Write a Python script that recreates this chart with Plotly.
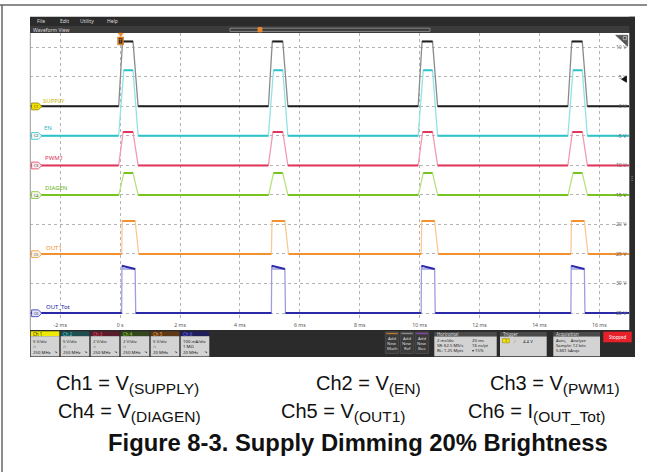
import plotly.graph_objects as go

W, H = 651, 472


def X(px):
    return px / W


def Y(py):
    return 1 - py / H


# ---------------- data ----------------
pulse_starts_ms = [0, 5, 10, 15]
channel_names = ["SUPPLY", "EN", "PWM1", "DIAGEN", "OUT1", "OUT_Tot"]
low_level = [0.0, -5.0, -10.0, -15.0, -25.0, -35.0]          # screen position (V grid units)
high_level = [11.0, 6.1, -4.35, -11.3, -19.4, -27.55]
rise_start_ms = [-0.05, -0.05, -0.05, -0.04, 0.05, 0.05]
rise_end_ms = [0.08, 0.12, 0.10, 0.12, 0.07, 0.06]
fall_start_ms = [0.43, 0.43, 0.43, 0.43, 0.50, 0.50]
fall_end_ms = [0.60, 0.60, 0.60, 0.60, 0.62, 0.52]
edge_overshoot = [0.0, 0.0, 0.0, 0.0, 0.0, 0.55]

time_range_ms = [-3, 17]
time_ticks_ms = [-2, 0, 2, 4, 6, 8, 10, 12, 14, 16]
time_tick_labels = ["-2 ms", "0 s", "2 ms", "4 ms", "6 ms", "8 ms", "10 ms", "12 ms", "14 ms", "16 ms"]
level_ticks = [10, 5, 0, -5, -10, -15, -20, -25, -30, -35]
level_tick_labels = ["10 V", "5 V", "0 V", "-5 V", "-10 V", "-15 V", "-20 V", "-25 V", "-30 V", "-35 V"]

ch_headers = ["Ch 1", "Ch 2", "Ch 3", "Ch 4", "Ch 5", "Ch 6"]
ch_scale = ["5 V/div", "5 V/div", "2 V/div", "2 V/div", "5 V/div", "100 mA/div"]
ch_line2 = ["∩", "∩", "∩", "∩", "∩", "1 MΩ"]
ch_bw = ["250 MHz", "250 MHz", "250 MHz", "250 MHz", "20 MHz", "20 MHz"]

caption_main_row1 = ["Ch1 = V", "Ch2 = V", "Ch3 = V"]
caption_sub_row1 = ["(SUPPLY)", "(EN)", "(PWM1)"]
caption_main_row2 = ["Ch4 = V", "Ch5 = V", "Ch6 = I"]
caption_sub_row2 = ["(DIAGEN)", "(OUT1)", "(OUT_Tot)"]
figure_title = "Figure 8-3. Supply Dimming 20% Brightness"

# ---------------- styles ----------------
strong = ["#1e1e1e", "#2ec3c9", "#e0365c", "#78c41e", "#f39030", "#2a2aa8"]
light = ["#8a8a8a", "#93e2e5", "#f39ab0", "#b7e27e", "#f9c994", "#9d9de0"]
label_col = ["#c9b600", "#2fb8bf", "#d8345a", "#6db21c", "#f08a22", "#2222a0"]
badge_fill = ["#f2e400", "#eefafa", "#fdeaf0", "#f1f9e6", "#fff2e4", "#dfe1ff"]
badge_line = ["#8a7c00", "#35c4ca", "#e0405f", "#80c232", "#f2952f", "#3535b5"]
hdr_fill = ["#f0ea00", "#1f4d50", "#5a1d2b", "#34461d", "#5c3a18", "#1f1f5c"]
hdr_text = ["#222222", "#45d4d6", "#ee4b6d", "#8fd63a", "#f4a040", "#7070f0"]
UI = "Noto Sans"

fig = go.Figure()

for i, name in enumerate(channel_names):
    lo, hi = low_level[i], high_level[i]
    xs, ys = [time_range_ms[0]], [lo]
    bx, by, tx, ty = [time_range_ms[0]], [lo], [], []
    for p in pulse_starts_ms:
        xs += [p + rise_start_ms[i], p + rise_end_ms[i]]
        ys += [lo, hi + edge_overshoot[i]]
        if edge_overshoot[i]:
            xs += [p + rise_end_ms[i] + 0.04]
            ys += [hi]
        xs += [p + fall_start_ms[i], p + fall_end_ms[i]]
        ys += [hi, lo]
        bx += [p + rise_start_ms[i], None, p + fall_end_ms[i]]
        by += [lo, None, lo]
        tx += [p + rise_end_ms[i], p + fall_start_ms[i], None]
        ty += [hi + edge_overshoot[i], hi, None]
    xs.append(time_range_ms[1])
    ys.append(lo)
    bx.append(time_range_ms[1])
    by.append(lo)
    fig.add_trace(go.Scatter(x=xs, y=ys, mode="lines", line=dict(color=light[i], width=1.3),
                             hoverinfo="skip", showlegend=False))
    fig.add_trace(go.Scatter(x=bx, y=by, mode="lines", line=dict(color=strong[i], width=2),
                             hoverinfo="skip", showlegend=False))
    fig.add_trace(go.Scatter(x=tx, y=ty, mode="lines", line=dict(color=strong[i], width=2),
                             hoverinfo="skip", showlegend=False))

# y range derived from pixel geometry of the grid
px_per_unit = 29.55 / 5.0
y_top = 10 + (47.3 - 33) / px_per_unit
y_bot = -35 - (321 - 313) / px_per_unit

shapes = []
ann = []


def rect(x0, y0, x1, y1, fill, line=None, lw=0, layer="above"):
    shapes.append(dict(type="rect", xref="paper", yref="paper", x0=X(x0), x1=X(x1), y0=Y(y1), y1=Y(y0),
                       fillcolor=fill, line=dict(color=line or fill, width=lw), layer=layer))


def path(pts, fill, line=None, lw=0.8):
    d = "M " + " L ".join(f"{X(a):.5f},{Y(b):.5f}" for a, b in pts) + " Z"
    shapes.append(dict(type="path", xref="paper", yref="paper", path=d, fillcolor=fill,
                       line=dict(color=line or fill, width=lw), layer="above"))


def text(x, y, s, size=5.5, color="#dddddd", xa="left", family=UI, ya="middle", **kw):
    ann.append(dict(x=X(x), y=Y(y), xref="paper", yref="paper", text=s, showarrow=False,
                    xanchor=xa, yanchor=ya, font=dict(size=size, color=color, family=family),
                    borderpad=0, **kw))


def yl(v):
    return 47.3 + (10 - v) * px_per_unit


# outer frame
shapes.append(dict(type="line", xref="paper", yref="paper", x0=X(0), x1=X(647), y0=Y(5), y1=Y(5),
                   line=dict(color="#666666", width=1.5)))
shapes.append(dict(type="line", xref="paper", yref="paper", x0=X(2), x1=X(2), y0=Y(5), y1=Y(472),
                   line=dict(color="#666666", width=1.5)))

# menu bars
rect(30, 16.7, 635, 26, "#2b2b2b")
rect(30, 26, 635, 33, "#3b3b3b")
for s, xx in zip(["File", "Edit", "Utility", "Help"], [35.5, 58.5, 79, 105.5]):
    text(xx, 21.4, s, size=5)
text(32, 29.6, "Waveform View", size=5)
rect(230, 28.2, 430, 31.4, "rgba(0,0,0,0)", "#9a9a9a", 0.8)
path([(258, 27.5), (262, 27.5), (262, 32), (258, 32)], "#e8892a")

# plot left border and right strip
shapes.append(dict(type="line", xref="paper", yref="paper", x0=X(30.3), x1=X(30.3), y0=Y(33), y1=Y(330),
                   line=dict(color="#9a9a9a", width=1)))
rect(629.3, 16.7, 635, 357, "#2b2b2b")
text(632.2, 178, "⋮", size=6, color="#bbbbbb", xa="center")

# top-right triangle
path([(615.7, 35.3), (627.7, 35.3), (627.7, 46.3)], "#555555")
rect(623.3, 36.5, 626.5, 39.7, "rgba(0,0,0,0)", "#dddddd", 0.6)

# trigger marker
path([(118.2, 33.3), (123.2, 33.3), (120.7, 36.3)], "#f08a24")
rect(117.7, 37.0, 123.5, 44.8, "#f08a24", "#c86a10", 0.6)
rect(118.8, 38.2, 122.4, 43.6, "#2a2a2a")
text(120.6, 40.9, "T", size=4.5, color="#f08a24", xa="center")

# 5 V cursor arrow
path([(621.5, 79.2), (626.5, 76.2), (626.5, 82.2)], "#111111")

# channel badges & names
name_y = [100.7, 128.3, 158.0, 188.0, 248.0, 307.0]
name_x = [42, 43, 44, 44, 45, 45]
for i, name in enumerate(channel_names):
    yb = yl(low_level[i])
    path([(31.6, yb - 3.4), (38.4, yb - 3.4), (41.8, yb), (38.4, yb + 3.4), (31.6, yb + 3.4)],
         badge_fill[i], badge_line[i], 0.8)
    text(35.6, yb, f"C{i + 1}", size=3.6, color="#333333", xa="center")
    text(name_x[i], name_y[i], name, size=6, color=label_col[i])

# bottom panel
rect(30, 330, 635, 357, "#2b2b2b")
for k in range(6):
    x0 = 30.7 + 30 * k
    rect(x0, 331.3, x0 + 28.6, 336.2, hdr_fill[k])
    rect(x0, 336.2, x0 + 28.6, 356.4, "#d3d3d3")
    text(x0 + 1.2, 333.8, ch_headers[k], size=4.4, color=hdr_text[k])
    text(x0 + 1.2, 340.6, ch_scale[k], size=4.3, color="#222222")
    text(x0 + 1.2, 346.0, ch_line2[k], size=4.3, color="#222222")
    text(x0 + 1.2, 351.8, ch_bw[k], size=4.3, color="#222222")
    text(x0 + 27.5, 351.8, "↘", size=4.0, color="#222222", xa="right")

for j, (lbl, col) in enumerate(zip(["Math", "Ref", "Bus"], ["#b77a33", "#8a8a8a", "#8a45a8"])):
    x0 = 385.3 + 15 * j
    rect(x0, 332, x0 + 13.4, 353.5, "#3a3a3a", "#5a5a5a", 0.6)
    rect(x0 + 1, 332.8, x0 + 12.4, 334.2, col)
    for r, s in enumerate(["Add", "New", lbl]):
        text(x0 + 6.7, 338.3 + 5 * r, s, size=4.3, color="#dddddd", xa="center")

boxes = [(434.3, 496.7, "Horizontal"), (500.0, 546.7, "Trigger"), (553.3, 600.0, "Acquisition")]
for x0, x1, title in boxes:
    rect(x0, 332, x1, 336.6, "#4a4a4a")
    rect(x0, 336.6, x1, 356.2, "#d3d3d3")
    text(x0 + 1.5, 334.3, title, size=4.4, color="#dddddd")
for r, (a, b) in enumerate([("2 ms/div", "20 ms"), ("SR: 62.5 MS/s", "16 ns/pt"), ("RL: 1.25 Mpts", "▾ 15%")]):
    text(436, 340.7 + 4.7 * r, a, size=4.2, color="#222222")
    text(471, 340.7 + 4.7 * r, b, size=4.2, color="#222222")
rect(502.5, 338.6, 509.3, 342.8, "#f2e400", "#8a7c00", 0.5)
text(505.9, 340.7, "1", size=3.8, color="#333333", xa="center")
text(512.5, 340.7, "/", size=4.3, color="#777777")
text(522, 340.7, "4.4 V", size=4.3, color="#222222")
for r, s in enumerate(["Auto,    Analyze", "Sample: 12 bits", "5.661 kAcqs"]):
    text(555, 340.7 + 4.7 * r, s, size=4.2, color="#222222")
rect(603.3, 331.7, 631.7, 342.3, "#e8202a")
text(617.5, 337, "Stopped", size=4.4, color="#ffffff", xa="center")

# captions
CAP = "Liberation Sans"
SUB = 15.5
for m, s, xx in zip(caption_main_row1, caption_sub_row1, [55, 315, 489]):
    text(xx, 384, f"{m}<sub><span style='font-size:{SUB}px'>{s}</span></sub>", size=20,
         color="#111111", family=CAP)
for m, s, xx in zip(caption_main_row2, caption_sub_row2, [57, 280, 467]):
    text(xx, 412, f"{m}<sub><span style='font-size:{SUB}px'>{s}</span></sub>", size=20,
         color="#111111", family=CAP)
text(357.5, 442, f"<b>{figure_title}</b>", size=23.8, color="#111111", family=CAP, xa="center")

fig.update_layout(
    width=W, height=H, margin=dict(l=0, r=0, t=0, b=0),
    paper_bgcolor="white", plot_bgcolor="white", showlegend=False,
    xaxis=dict(domain=[X(30.3), X(629.3)], range=time_range_ms, tickvals=time_ticks_ms,
               ticktext=time_tick_labels, showgrid=True, gridcolor="#b4b4b4", griddash="dot",
               gridwidth=1, zeroline=False, showline=False, ticks="",
               tickfont=dict(size=5.2, color="#555555", family=UI), fixedrange=True),
    yaxis=dict(domain=[Y(321), Y(33)], range=[y_bot, y_top], tickvals=level_ticks,
               ticktext=level_tick_labels, side="right", ticklabelposition="inside",
               showgrid=True, gridcolor="#b4b4b4", griddash="dot", gridwidth=1, zeroline=False,
               showline=False, ticks="", tickfont=dict(size=5.2, color="#666666", family=UI),
               fixedrange=True),
    shapes=shapes, annotations=ann,
)

fig.write_html("out.html", config={"displayModeBar": False},
               post_script="document.body.style.margin='0px';document.body.style.overflow='hidden';")
